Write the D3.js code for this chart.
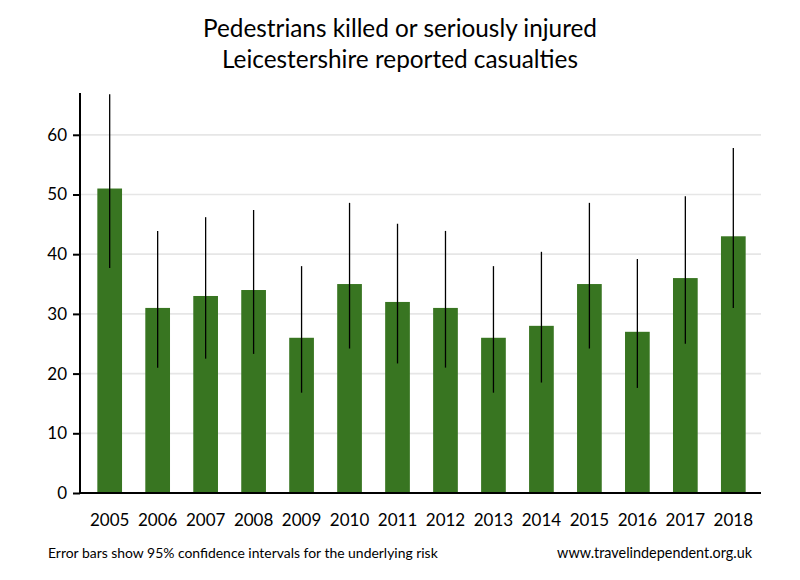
<!DOCTYPE html>
<html>
<head>
<meta charset="utf-8">
<script src="https://cdn.jsdelivr.net/npm/d3@7"></script>
<style>
  html, body { margin: 0; padding: 0; background: #fff; }
  svg text { font-family: Lato, "Open Sans", sans-serif; fill: #000; }
</style>
</head>
<body>
<svg id="chart" width="800" height="580"></svg>
<script>
const years = ["2005","2006","2007","2008","2009","2010","2011","2012","2013","2014","2015","2016","2017","2018"];
const casualties = [51, 31, 33, 34, 26, 35, 32, 31, 26, 28, 35, 27, 36, 43];
const ciLower = [37.7, 21.0, 22.5, 23.3, 16.8, 24.2, 21.7, 21.0, 16.8, 18.5, 24.2, 17.6, 25.0, 31.0];
const ciUpper = [66.8, 43.9, 46.2, 47.4, 38.0, 48.6, 45.1, 43.9, 38.0, 40.4, 48.6, 39.2, 49.7, 57.8];
const yTicks = [0, 10, 20, 30, 40, 50, 60];
const titleLines = ["Pedestrians killed or seriously injured", "Leicestershire reported casualties"];
const footLeft = "Error bars show 95% confidence intervals for the underlying risk";
const footRight = "www.travelindependent.org.uk";

const svg = d3.select("#chart");
const axisLeft = 80, plotRight = 761, y0 = 493, yTop = 93;

const x = d3.scaleBand().domain(years).range([85.7, 757.3]).paddingInner(0.485).paddingOuter(0.2425);
const y = d3.scaleLinear().domain([0, 67]).range([y0, yTop]);

function fit(sel, w) {
  const node = sel.node();
  let fs = parseFloat(sel.attr("font-size"));
  const len = node.getComputedTextLength();
  sel.attr("font-size", (fs * w / len).toFixed(2));
}

// gridlines
svg.append("g").selectAll("line").data(yTicks.filter(d => d > 0)).join("line")
  .attr("x1", axisLeft).attr("x2", plotRight)
  .attr("y1", d => y(d)).attr("y2", d => y(d))
  .attr("stroke", "#e6e6e6").attr("stroke-width", 1.7);

// bars
const data = years.map((yr, i) => ({ yr, v: casualties[i], lo: ciLower[i], hi: ciUpper[i] }));
svg.append("g").selectAll("rect").data(data).join("rect")
  .attr("x", d => x(d.yr)).attr("width", x.bandwidth())
  .attr("y", d => y(d.v)).attr("height", d => y0 - y(d.v))
  .attr("fill", "#387521");

// error bars
svg.append("g").selectAll("line").data(data).join("line")
  .attr("x1", d => x(d.yr) + x.bandwidth() / 2).attr("x2", d => x(d.yr) + x.bandwidth() / 2)
  .attr("y1", d => y(d.lo)).attr("y2", d => y(d.hi))
  .attr("stroke", "#000").attr("stroke-width", 1.3);

// y axis
const ya = svg.append("g").attr("transform", `translate(${axisLeft},0)`)
  .call(d3.axisLeft(y).tickValues(yTicks).tickSize(7).tickPadding(6));
ya.select(".domain").remove();
ya.selectAll(".tick line").attr("stroke", "#000").attr("stroke-width", 2);
ya.selectAll(".tick text").attr("font-size", 17).attr("font-family", "Lato, sans-serif").attr("fill", "#000");
svg.append("line").attr("x1", axisLeft).attr("x2", axisLeft).attr("y1", yTop).attr("y2", y0 + 1)
  .attr("stroke", "#000").attr("stroke-width", 2);

// x axis
const xa = svg.append("g").attr("transform", `translate(0,${y0})`)
  .call(d3.axisBottom(x).tickSize(0).tickPadding(21));
xa.select(".domain").remove();
xa.selectAll(".tick text").attr("font-size", 17).attr("font-family", "Lato, sans-serif").attr("fill", "#000");
svg.append("line").attr("x1", axisLeft - 1).attr("x2", plotRight).attr("y1", y0).attr("y2", y0)
  .attr("stroke", "#000").attr("stroke-width", 2);

// title
const t1 = svg.append("text").attr("x", 400).attr("y", 37).attr("text-anchor", "middle")
  .attr("font-size", 22).text(titleLines[0]);
fit(t1, 394);
const t2 = svg.append("text").attr("x", 400).attr("y", 68).attr("text-anchor", "middle")
  .attr("font-size", 22).text(titleLines[1]);
fit(t2, 356);

// footer
const f1 = svg.append("text").attr("x", 48).attr("y", 558).attr("font-size", 12).text(footLeft);
fit(f1, 390);
const f2 = svg.append("text").attr("x", 752).attr("y", 558).attr("text-anchor", "end").attr("font-size", 12).text(footRight);
fit(f2, 195);
</script>
</body>
</html>
